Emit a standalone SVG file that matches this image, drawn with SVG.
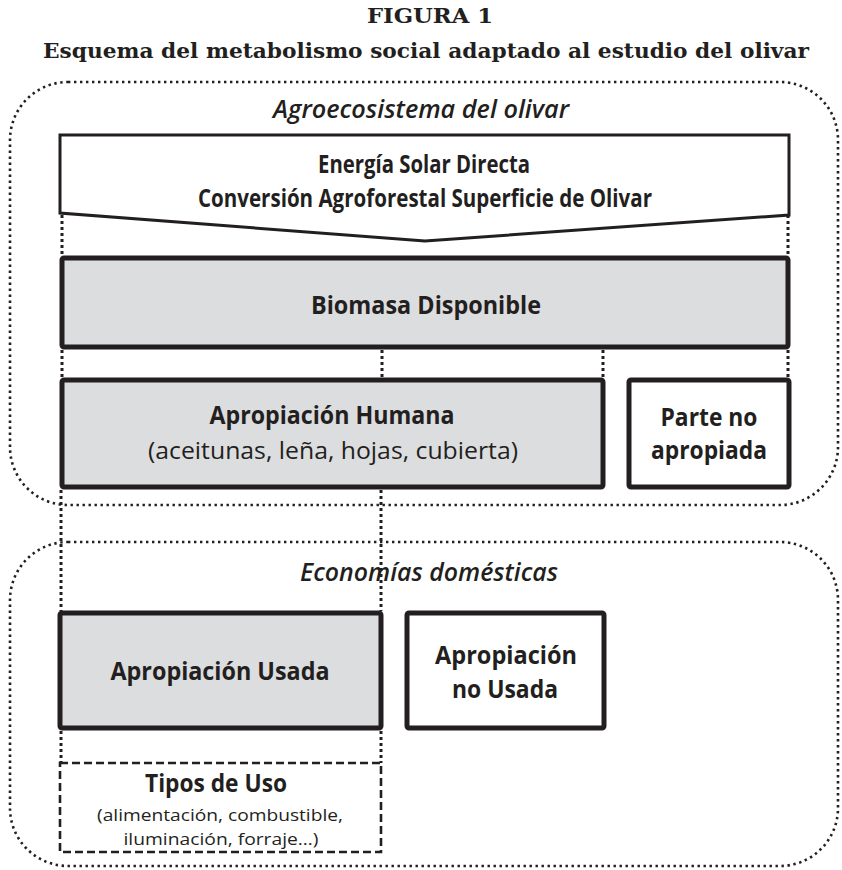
<svg xmlns="http://www.w3.org/2000/svg" width="842" height="870" viewBox="0 0 842 870">
<style>
.title{font-family:"DejaVu Serif","Liberation Serif",serif;font-weight:bold;font-size:21px;fill:#231f20;text-anchor:middle}
.cont{fill:none;stroke:#231f20;stroke-width:2.6;stroke-dasharray:2.4 3.6}
.clabel{font-family:"Open Sans","Liberation Sans",sans-serif;font-style:italic;font-weight:600;font-size:25px;fill:#231f20;text-anchor:middle}
.box{stroke:#231f20;stroke-width:5;stroke-linejoin:round}
.grey{fill:#dcdddf}
.white{fill:#ffffff}
.lb{font-family:"Open Sans","Liberation Sans",sans-serif;font-weight:bold;font-size:25px;fill:#231f20;text-anchor:middle}
.lr{font-family:"Open Sans","Liberation Sans",sans-serif;font-size:24px;fill:#231f20;text-anchor:middle}
.ls{font-family:"Open Sans","Liberation Sans",sans-serif;font-size:17px;fill:#231f20;text-anchor:middle}
.conn line{stroke:#231f20;stroke-width:3;stroke-dasharray:3 3}
</style>
<rect width="842" height="870" fill="#ffffff"/>
<g id="titles">
<text class="title" x="430" y="23" textLength="126" lengthAdjust="spacingAndGlyphs">FIGURA 1</text>
<text class="title" x="426" y="58" textLength="766" lengthAdjust="spacingAndGlyphs">Esquema del metabolismo social adaptado al estudio del olivar</text>
</g>
<g id="agroecosistema">
<rect class="cont" x="10" y="82" width="828" height="423" rx="58" ry="58"/>
<text class="clabel" x="421" y="118" textLength="296" lengthAdjust="spacingAndGlyphs">Agroecosistema del olivar</text>
</g>
<g id="economias">
<rect class="cont" x="10" y="542" width="828" height="324" rx="58" ry="58"/>
<text class="clabel" x="429" y="581" textLength="258" lengthAdjust="spacingAndGlyphs">Economías domésticas</text>
</g>
<g id="connectors" class="conn">
<line x1="62" y1="197" x2="62" y2="256"/>
<line x1="788" y1="167" x2="788" y2="256"/>
<line x1="62" y1="350" x2="62" y2="378"/>
<line x1="382" y1="350" x2="382" y2="378"/>
<line x1="603" y1="350" x2="603" y2="378"/>
<line x1="788" y1="350" x2="788" y2="378"/>
<line x1="61" y1="490" x2="61" y2="611"/>
<line x1="381" y1="490" x2="381" y2="611"/>
<line x1="61" y1="731" x2="61" y2="763"/>
<line x1="381" y1="731" x2="381" y2="763"/>
</g>
<g id="energia">
<polygon points="60,135 789,135 789,215 425,241 60,213" fill="#ffffff" stroke="#231f20" stroke-width="3" stroke-linejoin="miter"/>
<text class="lb" x="424" y="173" font-size="19" textLength="212" lengthAdjust="spacingAndGlyphs">Energía Solar Directa</text>
<text class="lb" x="425" y="207" font-size="19" textLength="454" lengthAdjust="spacingAndGlyphs">Conversión Agroforestal Superficie de Olivar</text>
</g>
<g id="biomasa">
<rect class="box grey" x="62" y="258" width="726" height="89" rx="2"/>
<text class="lb" x="426" y="314" textLength="230" lengthAdjust="spacingAndGlyphs">Biomasa Disponible</text>
</g>
<g id="apropiacion-humana">
<rect class="box grey" x="62" y="380" width="541" height="107" rx="2"/>
<text class="lb" x="332" y="424" textLength="245" lengthAdjust="spacingAndGlyphs">Apropiación Humana</text>
<text class="lr" x="333" y="459" textLength="370" lengthAdjust="spacingAndGlyphs">(aceitunas, leña, hojas, cubierta)</text>
</g>
<g id="parte-no-apropiada">
<rect class="box white" x="629" y="380" width="160" height="107" rx="2"/>
<text class="lb" x="709" y="426" textLength="97" lengthAdjust="spacingAndGlyphs">Parte no</text>
<text class="lb" x="709" y="459" textLength="116" lengthAdjust="spacingAndGlyphs">apropiada</text>
</g>
<g id="apropiacion-usada">
<rect class="box grey" x="60" y="613" width="321" height="115" rx="2"/>
<text class="lb" x="220" y="680" textLength="219" lengthAdjust="spacingAndGlyphs">Apropiación Usada</text>
</g>
<g id="apropiacion-no-usada">
<rect class="box white" x="407" y="613" width="197" height="115" rx="2"/>
<text class="lb" x="506" y="664" textLength="142" lengthAdjust="spacingAndGlyphs">Apropiación</text>
<text class="lb" x="505" y="698" textLength="106" lengthAdjust="spacingAndGlyphs">no Usada</text>
</g>
<g id="tipos-de-uso">
<rect x="60" y="763" width="321" height="89" fill="#ffffff" stroke="#231f20" stroke-width="2.6" stroke-dasharray="8 4"/>
<text class="lb" x="216" y="792" textLength="142" lengthAdjust="spacingAndGlyphs">Tipos de Uso</text>
<text class="ls" x="220" y="821" textLength="246" lengthAdjust="spacingAndGlyphs">(alimentación, combustible,</text>
<text class="ls" x="221" y="845" textLength="195" lengthAdjust="spacingAndGlyphs">iluminación, forraje…)</text>
</g>
</svg>
